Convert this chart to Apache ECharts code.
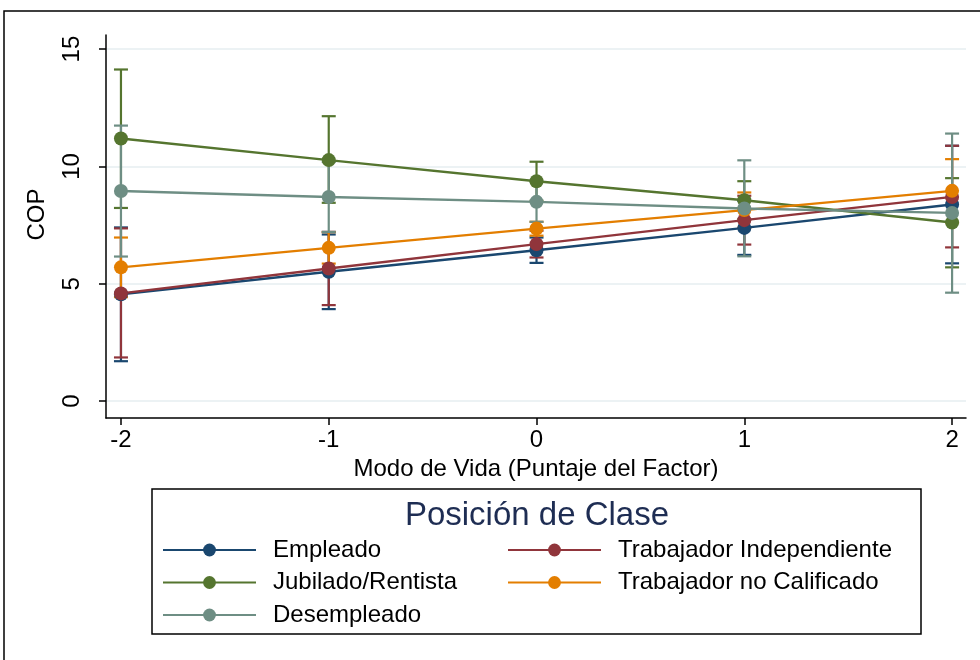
<!DOCTYPE html>
<html>
<head>
<meta charset="utf-8">
<script src="https://cdn.jsdelivr.net/npm/echarts@6/dist/echarts.min.js"></script>
<style>
html,body{margin:0;padding:0;background:#fff;}
#chart{width:980px;height:660px;}
</style>
</head>
<body>
<div id="chart"></div>
<script>
var xValues = [-2, -1, 0, 1, 2];
var xTicks = [-2, -1, 0, 1, 2];
var yTicks = [0, 5, 10, 15];

var seriesNames = ['Empleado', 'Trabajador Independiente', 'Jubilado/Rentista', 'Trabajador no Calificado', 'Desempleado'];

var empleadoMean = [4.55, 5.51, 6.43, 7.38, 8.38];
var empleadoLo   = [1.70, 3.92, 5.89, 6.23, 5.87];
var empleadoHi   = [7.40, 7.10, 6.97, 8.53, 10.88];

var independienteMean = [4.59, 5.65, 6.69, 7.71, 8.70];
var independienteLo   = [1.86, 4.09, 6.12, 6.67, 6.55];
var independienteHi   = [7.36, 7.21, 7.26, 8.75, 10.88];

var jubiladoMean = [11.19, 10.27, 9.37, 8.56, 7.61];
var jubiladoLo   = [8.23, 8.45, 8.54, 7.75, 5.70];
var jubiladoHi   = [14.13, 12.14, 10.20, 9.37, 9.50];

var noCalificadoMean = [5.70, 6.53, 7.35, 8.14, 8.96];
var noCalificadoLo   = [4.43, 5.86, 7.05, 7.39, 7.61];
var noCalificadoHi   = [6.97, 7.20, 7.64, 8.89, 10.31];

var desempleadoMean = [8.95, 8.70, 8.49, 8.21, 8.02];
var desempleadoLo   = [6.16, 7.21, 7.64, 6.17, 4.62];
var desempleadoHi   = [11.74, 10.19, 9.34, 10.26, 11.40];

var colors = ['#1a476f', '#90353b', '#55752f', '#e37e00', '#6e8e84'];

var means = [empleadoMean, independienteMean, jubiladoMean, noCalificadoMean, desempleadoMean];
var los = [empleadoLo, independienteLo, jubiladoLo, noCalificadoLo, desempleadoLo];
var his = [empleadoHi, independienteHi, jubiladoHi, noCalificadoHi, desempleadoHi];

var FONT = '"Liberation Sans", Arial, Helvetica, sans-serif';

function errRender(color) {
  return function (params, api) {
    var x = api.value(0), lo = api.value(1), hi = api.value(2);
    var p1 = api.coord([x, lo]), p2 = api.coord([x, hi]);
    var w = 7;
    var st = {stroke: color, lineWidth: 2.2};
    return {type: 'group', children: [
      {type: 'line', shape: {x1: p1[0], y1: p1[1], x2: p2[0], y2: p2[1]}, style: st},
      {type: 'line', shape: {x1: p1[0] - w, y1: p1[1], x2: p1[0] + w, y2: p1[1]}, style: st},
      {type: 'line', shape: {x1: p2[0] - w, y1: p2[1], x2: p2[0] + w, y2: p2[1]}, style: st}
    ]};
  };
}

var series = [];
for (var i = 0; i < seriesNames.length; i++) {
  var ed = [];
  for (var j = 0; j < xValues.length; j++) ed.push([xValues[j], los[i][j], his[i][j]]);
  series.push({
    type: 'custom', name: seriesNames[i] + ' IC', renderItem: errRender(colors[i]),
    data: ed, encode: {x: 0, y: [1, 2]}, z: 1, silent: true
  });
}
for (var i = 0; i < seriesNames.length; i++) {
  var d = [];
  for (var j = 0; j < xValues.length; j++) d.push([xValues[j], means[i][j]]);
  series.push({
    type: 'line', name: seriesNames[i], data: d, z: 3,
    symbol: 'circle', symbolSize: 14, showSymbol: true,
    lineStyle: {color: colors[i], width: 2.4},
    itemStyle: {color: colors[i]},
    emphasis: {disabled: true}
  });
}

var chart = echarts.init(document.getElementById('chart'), null, {renderer: 'canvas'});
chart.setOption({
  animation: false,
  backgroundColor: '#ffffff',
  textStyle: {fontFamily: FONT},
  title: {
    text: 'Posición de Clase', left: 537, top: 499, textAlign: 'center', padding: 0,
    textStyle: {fontFamily: FONT, fontSize: 33, fontWeight: 'normal', color: '#1e2d53'}
  },
  grid: {left: 106, right: 14, top: 35, bottom: 242, containLabel: false},
  xAxis: {
    type: 'value', min: -2.072, max: 2.067,
    name: 'Modo de Vida (Puntaje del Factor)', nameLocation: 'middle', nameGap: 34,
    nameTextStyle: {fontFamily: FONT, fontSize: 24, color: '#000'},
    axisLine: {show: true, onZero: false, lineStyle: {color: '#000', width: 1.5}},
    axisTick: {show: true, length: 7, customValues: xTicks, lineStyle: {color: '#000', width: 1.5}},
    axisLabel: {customValues: xTicks, fontFamily: FONT, fontSize: 24, color: '#000', margin: 10},
    splitLine: {show: false}
  },
  yAxis: {
    type: 'value', min: -0.72, max: 15.6,
    name: 'COP', nameLocation: 'middle', nameGap: 57, nameRotate: 90,
    nameTextStyle: {fontFamily: FONT, fontSize: 24, color: '#000', padding: [0, 0, 0, 24]},
    axisLine: {show: true, onZero: false, lineStyle: {color: '#000', width: 1.5}},
    axisTick: {show: true, length: 7, customValues: yTicks, lineStyle: {color: '#000', width: 1.5}},
    axisLabel: {customValues: yTicks, rotate: 90, fontFamily: FONT, fontSize: 24, color: '#000', margin: 22},
    splitLine: {show: true, lineStyle: {color: '#e6eef0', width: 1.5}}
  },
  legend: [
    {
      data: [seriesNames[0], seriesNames[2], seriesNames[4]],
      orient: 'vertical', left: 162, top: 538, padding: 0,
      itemWidth: 93, itemHeight: 16, itemGap: 8.5,
      textStyle: {fontFamily: FONT, fontSize: 24, color: '#000', padding: [0, 0, 0, 12]},
      selectedMode: false
    },
    {
      data: [seriesNames[1], seriesNames[3]],
      orient: 'vertical', left: 507, top: 538, padding: 0,
      itemWidth: 93, itemHeight: 16, itemGap: 8.5,
      textStyle: {fontFamily: FONT, fontSize: 24, color: '#000', padding: [0, 0, 0, 12]},
      selectedMode: false
    }
  ],
  graphic: [
    {type: 'rect', shape: {x: 4, y: 11, width: 1000, height: 700}, style: {fill: 'none', stroke: '#000', lineWidth: 1.5}, silent: true},
    {type: 'rect', shape: {x: 152, y: 489, width: 769, height: 145}, style: {fill: 'none', stroke: '#000', lineWidth: 1.5}, silent: true}
  ],
  series: series
});
</script>
</body>
</html>
